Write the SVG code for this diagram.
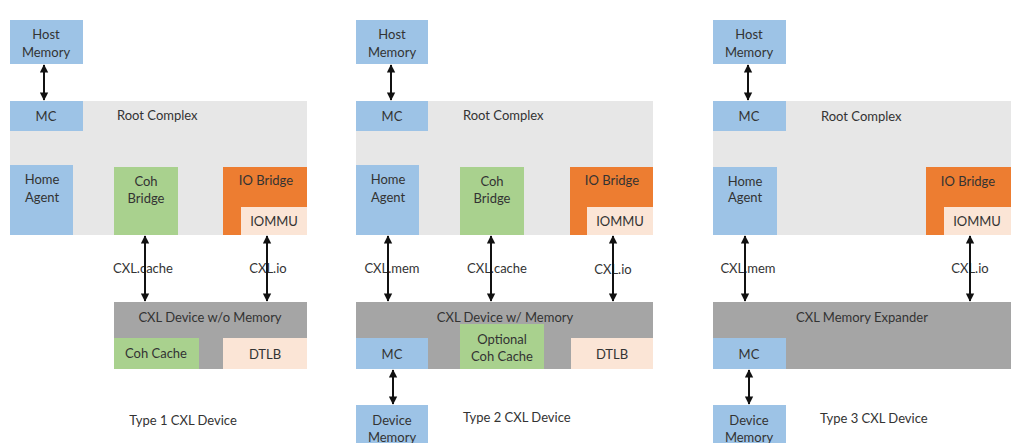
<svg xmlns="http://www.w3.org/2000/svg" width="1024" height="443" viewBox="0 0 1024 443">
<style>
text{font-family:Lato,"Open Sans","Liberation Sans",sans-serif;font-size:13px;fill:#333;text-anchor:middle;dominant-baseline:central}
.blue{fill:#9dc3e6}.rc{fill:#e7e7e7}.green{fill:#a9d18e}.orange{fill:#ed7d31}.peach{fill:#fbe5d6}.dev{fill:#a5a5a5}
.arr{stroke:#111;stroke-width:2;fill:none;marker-start:url(#ah);marker-end:url(#ah)}
</style>
<defs>
<marker id="ah" viewBox="0 0 10 10" refX="9" refY="5" markerWidth="4.2" markerHeight="4.5" orient="auto-start-reverse" markerUnits="strokeWidth"><path d="M0,0L10,5L0,10z" fill="#111"/></marker>
</defs>
<rect width="1024" height="443" fill="#fff"/>

<!-- Panel 1 -->
<g id="p1-host"><rect class="blue" x="10" y="20" width="73" height="44"/><text x="46" y="34">Host</text><text x="46" y="52">Memory</text></g>
<g id="p1-rc"><rect class="rc" x="10" y="101" width="297" height="134"/><text x="117" y="115" style="text-anchor:start">Root Complex</text></g>
<g id="p1-mc"><rect class="blue" x="10" y="101" width="73" height="30"/><text x="46" y="116">MC</text></g>
<g id="p1-ha"><rect class="blue" x="10" y="165" width="63" height="70"/><text x="42" y="179">Home</text><text x="42" y="197">Agent</text></g>
<g id="p1-cb"><rect class="green" x="114" y="167" width="64" height="68"/><text x="146" y="181">Coh</text><text x="146" y="198">Bridge</text></g>
<g id="p1-io"><rect class="orange" x="223" y="167" width="84" height="68"/><text x="266" y="180">IO Bridge</text></g>
<g id="p1-iommu"><rect class="peach" x="241" y="207" width="66" height="28"/><text x="274" y="221">IOMMU</text></g>
<g id="p1-dev"><rect class="dev" x="114" y="302" width="193" height="67"/><text x="210" y="317">CXL Device w/o Memory</text></g>
<g id="p1-cc"><rect class="green" x="114" y="338" width="85" height="31"/><text x="156" y="353">Coh Cache</text></g>
<g id="p1-dtlb"><rect class="peach" x="223" y="338" width="84" height="31"/><text x="265" y="354">DTLB</text></g>
<text x="183" y="420">Type 1 CXL Device</text>
<text x="143" y="268">CXL.cache</text>
<text x="268" y="268">CXL.io</text>

<!-- Panel 2 -->
<g id="p2-host"><rect class="blue" x="356" y="20" width="72" height="44"/><text x="392" y="34">Host</text><text x="392" y="52">Memory</text></g>
<g id="p2-rc"><rect class="rc" x="356" y="101" width="297" height="134"/><text x="463" y="115" style="text-anchor:start">Root Complex</text></g>
<g id="p2-mc"><rect class="blue" x="356" y="101" width="72" height="30"/><text x="392" y="116">MC</text></g>
<g id="p2-ha"><rect class="blue" x="356" y="165" width="63" height="70"/><text x="388" y="179">Home</text><text x="388" y="197">Agent</text></g>
<g id="p2-cb"><rect class="green" x="460" y="167" width="64" height="68"/><text x="492" y="181">Coh</text><text x="492" y="198">Bridge</text></g>
<g id="p2-io"><rect class="orange" x="570" y="167" width="83" height="68"/><text x="612" y="180">IO Bridge</text></g>
<g id="p2-iommu"><rect class="peach" x="587" y="207" width="66" height="28"/><text x="620" y="221">IOMMU</text></g>
<g id="p2-dev"><rect class="dev" x="356" y="302" width="297" height="67"/><text x="505" y="317">CXL Device w/ Memory</text></g>
<g id="p2-mc2"><rect class="blue" x="356" y="338" width="72" height="31"/><text x="392" y="354">MC</text></g>
<g id="p2-cc"><rect class="green" x="460" y="324" width="84" height="45"/><text x="502" y="339">Optional</text><text x="502" y="356">Coh Cache</text></g>
<g id="p2-dtlb"><rect class="peach" x="571" y="338" width="82" height="31"/><text x="612" y="354">DTLB</text></g>
<g id="p2-dm"><rect class="blue" x="356" y="405" width="72" height="45"/><text x="392" y="420">Device</text><text x="392" y="437">Memory</text></g>
<text x="463" y="417" style="text-anchor:start">Type 2 CXL Device</text>
<text x="392" y="268">CXL.mem</text>
<text x="497" y="268">CXL.cache</text>
<text x="613" y="269">CXL.io</text>

<!-- Panel 3 -->
<g id="p3-host"><rect class="blue" x="713" y="20" width="73" height="44"/><text x="749" y="34">Host</text><text x="749" y="52">Memory</text></g>
<g id="p3-rc"><rect class="rc" x="713" y="101" width="298" height="134"/><text x="821" y="116" style="text-anchor:start">Root Complex</text></g>
<g id="p3-mc"><rect class="blue" x="713" y="101" width="73" height="30"/><text x="749" y="116">MC</text></g>
<g id="p3-ha"><rect class="blue" x="713" y="167" width="64" height="68"/><text x="745" y="181">Home</text><text x="745" y="197">Agent</text></g>
<g id="p3-io"><rect class="orange" x="926" y="167" width="85" height="68"/><text x="968" y="181">IO Bridge</text></g>
<g id="p3-iommu"><rect class="peach" x="944" y="207" width="67" height="28"/><text x="977" y="221">IOMMU</text></g>
<g id="p3-dev"><rect class="dev" x="713" y="302" width="298" height="67"/><text x="862" y="317">CXL Memory Expander</text></g>
<g id="p3-mc2"><rect class="blue" x="713" y="338" width="73" height="31"/><text x="749" y="354">MC</text></g>
<g id="p3-dm"><rect class="blue" x="713" y="405" width="73" height="45"/><text x="749" y="420">Device</text><text x="749" y="437">Memory</text></g>
<text x="820" y="418" style="text-anchor:start">Type 3 CXL Device</text>
<text x="748" y="268">CXL.mem</text>
<text x="970" y="268">CXL.io</text>

<g id="connectors">
<line class="arr" x1="44" y1="65" x2="44" y2="100"/>
<line class="arr" x1="145" y1="236" x2="145" y2="301"/>
<line class="arr" x1="267" y1="236" x2="267" y2="301"/>
<line class="arr" x1="391" y1="65" x2="391" y2="100"/>
<line class="arr" x1="388" y1="236" x2="388" y2="301"/>
<line class="arr" x1="491" y1="236" x2="491" y2="301"/>
<line class="arr" x1="613" y1="236" x2="613" y2="301"/>
<line class="arr" x1="393" y1="370" x2="393" y2="404"/>
<line class="arr" x1="748" y1="65" x2="748" y2="100"/>
<line class="arr" x1="745" y1="236" x2="745" y2="301"/>
<line class="arr" x1="970" y1="236" x2="970" y2="301"/>
<line class="arr" x1="749" y1="370" x2="749" y2="404"/>
</g>
</svg>
